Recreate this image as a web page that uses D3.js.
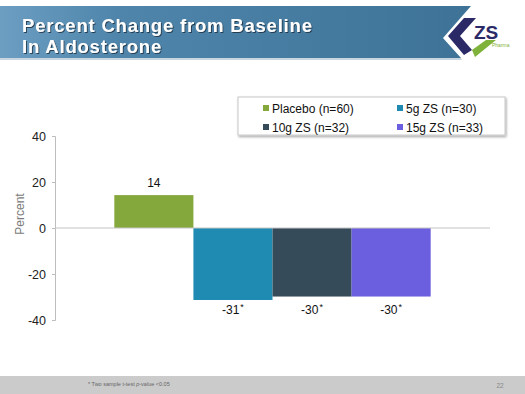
<!DOCTYPE html>
<html>
<head>
<meta charset="utf-8">
<script src="https://cdn.jsdelivr.net/npm/d3@7"></script>
<style>
  body { margin: 0; background: #fff; }
  svg { display: block; font-family: "Liberation Sans", Arial, sans-serif; }
</style>
</head>
<body>
<svg id="chart" width="525" height="394"></svg>
<script>
// data
const series = ['Placebo (n=60)', '5g ZS (n=30)', '10g ZS (n=32)', '15g ZS (n=33)'];
const values = [14.3, -31.3, -29.8, -29.8];
const valueLabels = ['14', '-31', '-30', '-30'];
const starred = [false, true, true, true];
const colors = ['#85a83c', '#1f8bb3', '#354b5a', '#6b5fe0'];
const yTicks = [-40, -20, 0, 20, 40];

const svg = d3.select('#chart');
const cs = {
    left: 55, right: 490,
    top: 136, bottom: 320
};

// header banner
const defs = svg.append('defs');
const grad = defs.append('linearGradient').attr('id', 'hdr').attr('x1', 0).attr('x2', 1).attr('y1', 0).attr('y2', 0);
grad.append('stop').attr('offset', '0%').attr('stop-color', '#6c9ec2');
grad.append('stop').attr('offset', '25%').attr('stop-color', '#4f85ab');
grad.append('stop').attr('offset', '100%').attr('stop-color', '#3e7397');
const sh = defs.append('filter').attr('id', 'tshadow');
sh.append('feDropShadow').attr('dx', 1).attr('dy', 1).attr('stdDeviation', 0.6).attr('flood-color', '#1a2a3a').attr('flood-opacity', 0.8);
const bs = defs.append('filter').attr('id', 'bshadow').attr('x', '-5%').attr('y', '-10%').attr('width', '115%').attr('height', '140%');
bs.append('feDropShadow').attr('dx', 1).attr('dy', 1.5).attr('stdDeviation', 1).attr('flood-color', '#000').attr('flood-opacity', 0.35);

svg.append('path')
    .attr('d', 'M0,6 L471,6 L443,38 L461,58 L0,58 Z')
    .attr('fill', 'url(#hdr)');
svg.append('path')
    .attr('d', 'M0,58 L461,58 L462,60 L0,60 Z')
    .attr('fill', '#c9d6df');

const title = svg.append('g').attr('filter', 'url(#tshadow)')
    .attr('fill', '#fff').attr('font-weight', 'bold').attr('font-size', 18.5)
    .attr('letter-spacing', 0.8);
title.append('text').attr('x', 22).attr('y', 32).text('Percent Change from Baseline');
title.append('text').attr('x', 22).attr('y', 53).text('In Aldosterone');

// logo
const logo = svg.append('g');
logo.append('path').attr('d', 'M464,18 L476,18 L460,36 L472,50 L464,55 L448,36 Z').attr('fill', '#2b2a66');
logo.append('path').attr('d', 'M472,50 L486,40 L496,40 L475,57 Z').attr('fill', '#7fb23a');
logo.append('text').attr('x', 474).attr('y', 39).attr('font-size', 19).attr('font-weight', 'bold')
    .attr('fill', '#2b2a66').text('ZS');
logo.append('text').attr('x', 492).attr('y', 46.5).attr('font-size', 5).attr('fill', '#7fb23a').text('Pharma');

// scales
const y = d3.scaleLinear().domain([-40, 40]).range([cs.bottom, cs.top]);
const x = d3.scaleBand().domain(series).range([cs.left, cs.right])
    .paddingInner(0).paddingOuter(0.75);

// y axis
const yAxis = d3.axisLeft(y).tickValues(yTicks).tickSize(3).tickPadding(6)
    .tickFormat(d => String(d));
const ga = svg.append('g').attr('transform', 'translate(' + cs.left + ',0)').call(yAxis);
ga.select('.domain').attr('stroke', '#bdbdbd');
ga.selectAll('.tick line').attr('stroke', '#bdbdbd');
ga.selectAll('.tick text').attr('font-size', 12.5).attr('fill', '#222')
    .attr('font-family', '"Liberation Sans", Arial, sans-serif');

svg.append('text')
    .attr('transform', 'translate(24,' + 214 + ') rotate(-90)')
    .attr('text-anchor', 'middle').attr('font-size', 12).attr('fill', '#7a7a7a')
    .text('Percent');

// bars
svg.selectAll('rect.bar').data(series).enter()
    .append('rect').attr('class', 'bar')
    .attr('x', d => x(d))
    .attr('width', x.bandwidth())
    .attr('y', (d, i) => y(Math.max(0, values[i])))
    .attr('height', (d, i) => Math.abs(y(values[i]) - y(0)))
    .attr('fill', (d, i) => colors[i]);

// zero line
svg.append('line')
    .attr('x1', cs.left).attr('x2', cs.right)
    .attr('y1', y(0)).attr('y2', y(0))
    .attr('stroke', '#c4c4c4');

// value labels
const lbl = svg.selectAll('text.val').data(series).enter()
    .append('text').attr('class', 'val')
    .attr('x', d => x(d) + x.bandwidth() / 2)
    .attr('y', (d, i) => values[i] >= 0 ? y(values[i]) - 8 : y(-31.3) + 14)
    .attr('text-anchor', 'middle').attr('font-size', 12).attr('fill', '#111');
lbl.append('tspan').text((d, i) => valueLabels[i]);
lbl.filter((d, i) => starred[i]).append('tspan')
    .attr('dy', -4).attr('dx', 1).attr('font-size', 9).text('*');

// legend
const lg = svg.append('g');
lg.append('rect').attr('x', 238).attr('y', 97).attr('width', 267).attr('height', 38)
    .attr('fill', '#fff').attr('stroke', '#c8c8c8').attr('filter', 'url(#bshadow)');
const legPos = [[263, 109], [397, 109], [263, 128], [397, 128]];
series.forEach((s, i) => {
    lg.append('rect').attr('x', legPos[i][0]).attr('y', legPos[i][1] - 4)
        .attr('width', 6).attr('height', 6).attr('fill', colors[i]);
    lg.append('text').attr('x', legPos[i][0] + 9).attr('y', legPos[i][1] + 3.5)
        .attr('font-size', 12).attr('fill', '#111').text(s);
});

// footer
svg.append('rect').attr('x', 0).attr('y', 376).attr('width', 525).attr('height', 18).attr('fill', '#cbcbcb');
const fn = svg.append('text').attr('x', 88).attr('y', 386).attr('font-size', 5.5).attr('fill', '#666');
fn.append('tspan').text('* Two sample t-test ');
fn.append('tspan').attr('font-style', 'italic').text('p');
fn.append('tspan').text('-value <0.05');
svg.append('text').attr('x', 500).attr('y', 388).attr('font-size', 6.5).attr('fill', '#888')
    .attr('text-anchor', 'middle').text('22');
</script>
</body>
</html>
